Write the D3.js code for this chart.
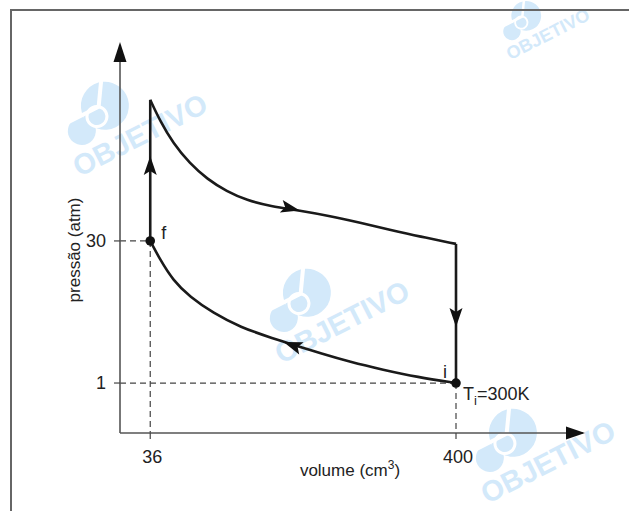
<!DOCTYPE html>
<html>
<head>
<meta charset="utf-8">
<script src="https://cdn.jsdelivr.net/npm/d3@7"></script>
<style>
  body { margin: 0; background: #fff; }
  svg text { font-family: "Liberation Sans", Arial, sans-serif; fill: #222; }
</style>
</head>
<body>
<div id="chart"></div>
<script>
// expansion curve (top), from the peak down to the right side
var upperCurve = [[36,58.8],[48,54.4],[63,50.0],[83,45.8],[104,42.6],[127,40.1],[151,38.3],
  [179,37.1],[214,36.2],[250,35.1],[286,33.7],[321,32.3],[357,30.9],[400,29.4]];
// compression curve (bottom), from i back to f
var lowerCurve = [[400,1],[354,2.2],[313,3.7],[274,5.3],[238,7.1],[214,8.4],[182,10.1],
  [143,12.4],[111,15.3],[83,18.6],[63,22.0],[48,26.1],[36,30]];
var xTicks = [36, 400];
var yTicks = [1, 30];
var points = [{v: 36, p: 30, name: "f"}, {v: 400, p: 1, name: "i"}];

var W = 629, H = 511;
var svg = d3.select("#chart").append("svg").attr("width", W).attr("height", H);

var x = d3.scaleLinear().domain([0, 400]).range([120, 456]);
var y = d3.scaleLinear().domain([-9.2, 70.4]).range([433, 43]);

// watermarks
var wmColor = "#d3e9fa";
var marks = [[140, 135, 1], [342, 322, 1], [548, 462, 1], [548, 34, 0.62]];
marks.forEach(function(m) {
  var g = svg.append("g")
    .attr("transform", "translate(" + m[0] + "," + m[1] + ") rotate(-27) scale(" + m[2] + ")");
  g.append("circle").attr("cx", -18).attr("cy", -42).attr("r", 24).attr("fill", wmColor);
  g.append("circle").attr("cx", -50).attr("cy", -30).attr("r", 14).attr("fill", wmColor);
  g.append("path").attr("d", "M-72,-44 L-24,-44 L-10,-66").attr("fill", "none")
    .attr("stroke", "#fff").attr("stroke-width", 4);
  g.append("circle").attr("cx", -30).attr("cy", -36).attr("r", 10).attr("fill", "none")
    .attr("stroke", "#fff").attr("stroke-width", 3);
  g.append("text").attr("x", 0).attr("y", 10).attr("text-anchor", "middle")
    .style("font-size", "29px").style("font-weight", "bold").style("fill", wmColor)
    .text("OBJETIVO");
});

// frame
svg.append("path").attr("d", "M629,10 L11,10 L11,511").attr("fill", "none")
  .attr("stroke", "#666").attr("stroke-width", 2);

// dashed guides
var dash = svg.append("g").attr("stroke", "#444").attr("stroke-width", 1.2)
  .attr("stroke-dasharray", "6,4").attr("fill", "none");
points.forEach(function(d) {
  dash.append("line").attr("x1", x(0)).attr("x2", x(d.v)).attr("y1", y(d.p)).attr("y2", y(d.p));
  dash.append("line").attr("x1", x(d.v)).attr("x2", x(d.v)).attr("y1", y(d.p)).attr("y2", y(-9.2));
});

// axes
var axisG = svg.append("g");
axisG.append("line").attr("x1", x(0)).attr("x2", 583).attr("y1", y(-9.2)).attr("y2", y(-9.2))
  .attr("stroke", "#555").attr("stroke-width", 1.6);
axisG.append("line").attr("x1", x(0)).attr("x2", x(0)).attr("y1", y(-9.2)).attr("y2", 46)
  .attr("stroke", "#555").attr("stroke-width", 1.6);
axisG.append("path").attr("d", "M585,433 L566,426.5 L566,439.5 Z").attr("fill", "#111");
axisG.append("path").attr("d", "M120,42 L113.5,62 L126.5,62 Z").attr("fill", "#111");

xTicks.forEach(function(t) {
  axisG.append("line").attr("x1", x(t)).attr("x2", x(t)).attr("y1", 433).attr("y2", 439)
    .attr("stroke", "#444").attr("stroke-width", 1.2);
  axisG.append("text").attr("x", x(t) + 2).attr("y", 463).attr("text-anchor", "middle")
    .style("font-size", "18px").text(t);
});
yTicks.forEach(function(t) {
  axisG.append("line").attr("x1", x(0) - 6).attr("x2", x(0)).attr("y1", y(t)).attr("y2", y(t))
    .attr("stroke", "#444").attr("stroke-width", 1.2);
  axisG.append("text").attr("x", x(0) - 14).attr("y", y(t) + 6).attr("text-anchor", "end")
    .style("font-size", "18px").text(t);
});

// axis titles
var xt = svg.append("text").attr("x", 350).attr("y", 476).attr("text-anchor", "middle")
  .style("font-size", "17px");
xt.append("tspan").text("volume (cm");
xt.append("tspan").attr("dy", -7).style("font-size", "12px").text("3");
xt.append("tspan").attr("dy", 7).text(")");

svg.append("text").attr("transform", "translate(80,250) rotate(-90)").attr("text-anchor", "middle")
  .style("font-size", "17px").text("pressão (atm)");

// cycle
var line = d3.line().x(function(d) { return x(d[0]); }).y(function(d) { return y(d[1]); })
  .curve(d3.curveBasis);
var cyc = svg.append("g").attr("fill", "none").attr("stroke", "#1a1a1a").attr("stroke-width", 2.6);
cyc.append("path").attr("d", line(upperCurve));
cyc.append("path").attr("d", line(lowerCurve.slice().reverse()));
var peak = upperCurve[0], rightEnd = upperCurve[upperCurve.length - 1];
cyc.append("line").attr("x1", x(36)).attr("x2", x(36)).attr("y1", y(30)).attr("y2", y(peak[1]));
cyc.append("line").attr("x1", x(400)).attr("x2", x(400)).attr("y1", y(rightEnd[1])).attr("y2", y(1));

// arrowheads
function arrow(px, py, ang) {
  svg.append("path").attr("d", "M9,0 L-10,-6.5 L-6,0 L-10,6.5 Z").attr("fill", "#111")
    .attr("transform", "translate(" + px + "," + py + ") rotate(" + ang + ")");
}
arrow(x(36), 165, -90);
arrow(x(400), 318, 90);
arrow(291, 208.5, 13);
arrow(292, 345, 200);

// state points
svg.selectAll("circle.pt").data(points).enter().append("circle").attr("class", "pt")
  .attr("cx", function(d) { return x(d.v); }).attr("cy", function(d) { return y(d.p); })
  .attr("r", 4.8).attr("fill", "#111");
svg.append("text").attr("x", x(36) + 11).attr("y", y(30) - 2).style("font-size", "18px").text("f");
svg.append("text").attr("x", x(400) - 13).attr("y", y(1) - 5).style("font-size", "18px").text("i");
var ti = svg.append("text").attr("x", x(400) + 7).attr("y", y(1) + 17).style("font-size", "18px");
ti.append("tspan").text("T");
ti.append("tspan").attr("dy", 5).style("font-size", "13px").text("i");
ti.append("tspan").attr("dy", -5).text("=300K");
</script>
</body>
</html>
